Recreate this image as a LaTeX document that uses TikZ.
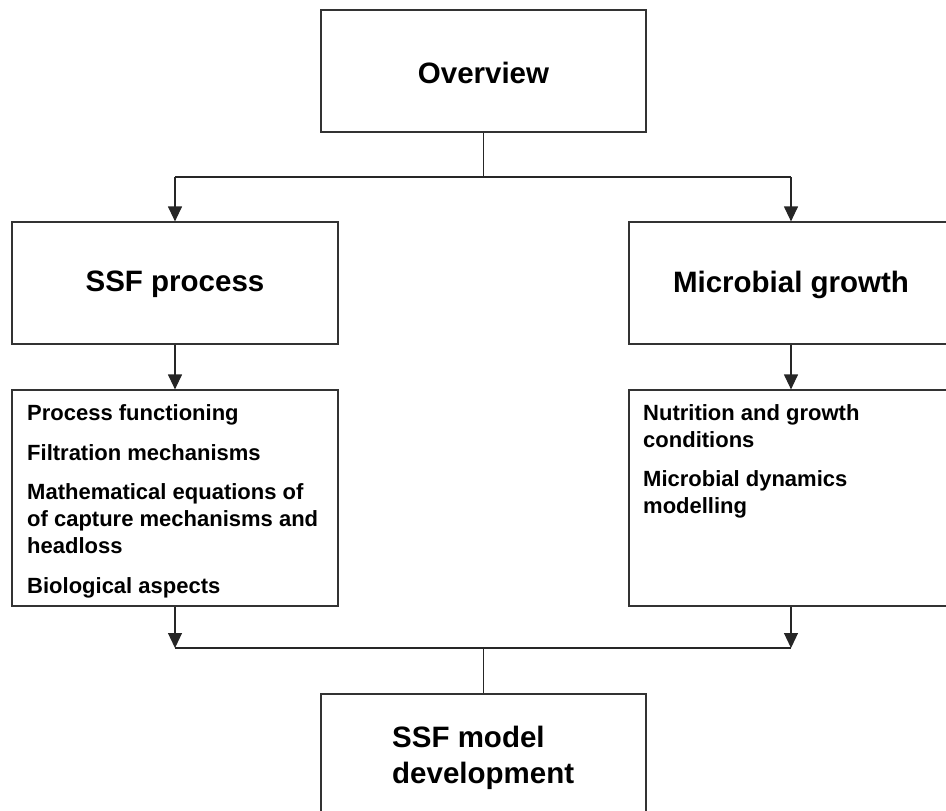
\documentclass[tikz,border=0pt]{standalone}
\usepackage{fontspec}
\setmainfont{Liberation Sans}
\usetikzlibrary{arrows.meta}
\begin{document}
\begin{tikzpicture}[x=1pt,y=-1pt,
  box/.style={draw=black!80, line width=1.2pt, fill=white, inner sep=0pt},
  title/.style={font=\fontsize{29.5}{35.5}\selectfont\bfseries, align=left},
  item/.style={font=\fontsize{22}{27}\selectfont\bfseries, anchor=base west, inner sep=0pt, align=left},
  conn/.style={draw=black!85, line width=1.2pt},
  arr/.style={conn, -{Triangle[length=15pt,width=14pt]}}]
\useasboundingbox (0,0) rectangle (946,811);
\begin{scope}
\clip (0,0) rectangle (946,811);
% boxes
\node[box, minimum width=325pt, minimum height=122pt] (ov) at (483.5,71) {};
\node[title] at (483.5,72.5) {Overview};
\node[box, minimum width=326pt, minimum height=122pt] (ssf) at (175,283) {};
\node[title] at (175,284.5) {SSF process};
\node[box, minimum width=324pt, minimum height=122pt] (mic) at (791,283) {};
\node[title] at (791,284.5) {Microbial growth};
\node[box, minimum width=326pt, minimum height=216pt] (lst) at (175,498) {};
\node[box, minimum width=324pt, minimum height=216pt] (rst) at (791,498) {};
\node[box, minimum width=325pt, minimum height=160pt] (mod) at (483.5,774) {};
% multi-line nodes: base anchor = baseline of last line
\node[title, anchor=base west, inner sep=0pt] at (392,783) {SSF model\\development};
% list texts
\node[item] (l1) at (27,420) {Process functioning};
\node[item] (l2) at (27,460) {Filtration mechanisms};
\node[item] (l3) at (27,553) {Mathematical equations of\\of capture mechanisms and\\headloss};
\node[item] (l4) at (27,593) {Biological aspects};
\node[item] (r1) at (643,447) {Nutrition and growth\\conditions};
\node[item] (r2) at (643,513) {Microbial dynamics\\modelling};
% connectors
\coordinate (top) at (483.5,177);
\coordinate (tl) at (ssf.north |- top);
\coordinate (tr) at (mic.north |- top);
\coordinate (bot) at (483.5,648);
\coordinate (bl) at (lst.south |- bot);
\coordinate (br) at (rst.south |- bot);
\draw[conn] (ov.south) -- (top);
\draw[conn] (tl) -- (tr);
\draw[arr] (tl) -- (ssf.north);
\draw[arr] (tr) -- (mic.north);
\draw[arr] (ssf.south) -- (lst.north);
\draw[arr] (mic.south) -- (rst.north);
\draw[arr] (lst.south) -- (bl);
\draw[arr] (rst.south) -- (br);
\draw[conn] (bl) -- (br);
\draw[conn] (bot) -- (mod.north);
\end{scope}
\end{tikzpicture}
\end{document}
